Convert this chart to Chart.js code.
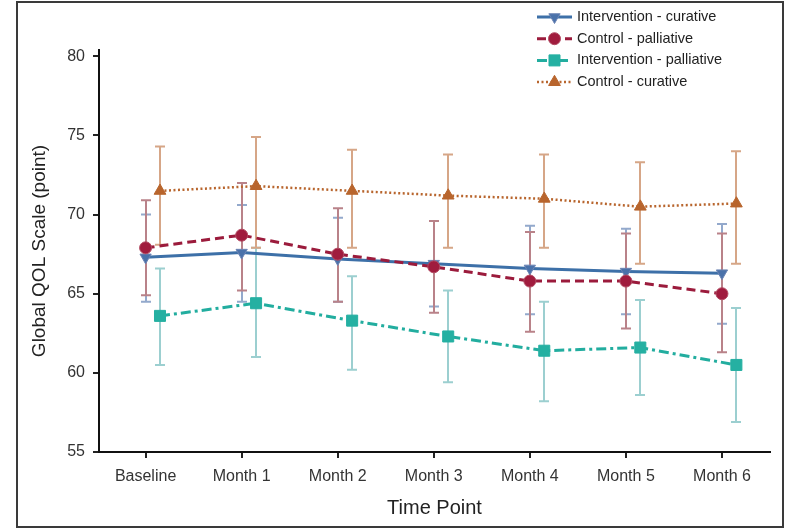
<!DOCTYPE html>
<html><head><meta charset="utf-8">
<script src="https://cdn.jsdelivr.net/npm/chart.js@4.4.0/dist/chart.umd.min.js"></script>
<style>
html,body{margin:0;padding:0;background:#fff;}
#wrap{position:relative;width:800px;height:530px;overflow:hidden;}
#frame{position:absolute;left:16px;top:1px;width:764px;height:523px;border:2px solid #3a3a3a;}
canvas{position:absolute;left:0;top:0;}
</style></head>
<body><div id="wrap"><div id="frame"></div><canvas id="c" width="800" height="530"></canvas></div>
<script>
const CATEGORIES = ['Baseline', 'Month 1', 'Month 2', 'Month 3', 'Month 4', 'Month 5', 'Month 6'];
const Y_TICKS = [55, 60, 65, 70, 75, 80];

const SERIES_NAMES = ['Intervention - curative', 'Control - palliative', 'Intervention - palliative', 'Control - curative'];

const IC_MEAN = [67.3, 67.6, 67.2, 66.9, 66.6, 66.4, 66.3];
const IC_LOW  = [64.5, 64.5, 64.5, 64.2, 63.7, 63.7, 63.1];
const IC_HIGH = [70.0, 70.6, 69.8, 69.6, 69.3, 69.1, 69.4];

const CP_MEAN = [67.9, 68.7, 67.5, 66.7, 65.8, 65.8, 65.0];
const CP_LOW  = [64.9, 65.2, 64.5, 63.8, 62.6, 62.8, 61.3];
const CP_HIGH = [70.9, 72.0, 70.4, 69.6, 68.9, 68.8, 68.8];

const IP_MEAN = [63.6, 64.4, 63.3, 62.3, 61.4, 61.6, 60.5];
const IP_LOW  = [60.5, 61.0, 60.2, 59.4, 58.2, 58.6, 56.9];
const IP_HIGH = [66.6, 67.9, 66.1, 65.2, 64.5, 64.6, 64.1];

const CC_MEAN = [71.5, 71.8, 71.5, 71.2, 71.0, 70.5, 70.7];
const CC_LOW  = [68.1, 67.9, 67.9, 67.9, 67.9, 66.9, 66.9];
const CC_HIGH = [74.3, 74.9, 74.1, 73.8, 73.8, 73.3, 74.0];

const DODGE = 0.15; // horizontal offset of the second group
const FONT = "'Liberation Sans', Arial, sans-serif";

function pts(vals, off) { return vals.map((v, i) => ({x: i + off, y: v})); }

const errorBars = {
  id: 'errorBars',
  beforeDatasetsDraw(chart) {
    const {ctx, scales: {x, y}} = chart;
    chart.data.datasets.forEach(ds => {
      ctx.save();
      ctx.strokeStyle = ds.errColor;
      ctx.lineWidth = 2;
      ds.data.forEach((p, i) => {
        const px = Math.round(x.getPixelForValue(p.x));
        const lo = y.getPixelForValue(ds.errLow[i]);
        const hi = y.getPixelForValue(ds.errHigh[i]);
        ctx.beginPath();
        ctx.moveTo(px, lo); ctx.lineTo(px, hi);
        ctx.moveTo(px - 5, lo); ctx.lineTo(px + 5, lo);
        ctx.moveTo(px - 5, hi); ctx.lineTo(px + 5, hi);
        ctx.stroke();
      });
      ctx.restore();
    });
  }
};

const legendBox = {
  id: 'legendBox',
  afterDraw(chart) {
    const ctx = chart.ctx;
    const x0 = 537, x1 = 572, tx = 577, y0 = 17, dy = 21.7;
    chart.data.datasets.forEach((ds, i) => {
      const cy = y0 + i * dy;
      ctx.save();
      ctx.strokeStyle = ds.borderColor;
      ctx.lineWidth = ds.borderWidth;
      ctx.setLineDash(ds.borderDash || []);
      ctx.beginPath(); ctx.moveTo(x0, cy); ctx.lineTo(x1, cy); ctx.stroke();
      ctx.setLineDash([]);
      ctx.fillStyle = ds.pointBackgroundColor;
      ctx.strokeStyle = ds.pointBorderColor;
      ctx.lineWidth = ds.pointBorderWidth;
      Chart.helpers.drawPoint(ctx, {pointStyle: ds.pointStyle, rotation: ds.pointRotation || 0,
        radius: ds.pointRadius, borderWidth: ds.pointBorderWidth}, (x0 + x1) / 2, cy);
      ctx.fillStyle = '#222';
      ctx.font = '14.5px ' + FONT;
      ctx.textBaseline = 'middle';
      ctx.textAlign = 'left';
      ctx.fillText(ds.label, tx, cy);
      ctx.restore();
    });
  }
};

const datasets = [
  {label: SERIES_NAMES[0], data: pts(IC_MEAN, 0), errLow: IC_LOW, errHigh: IC_HIGH, errColor: '#93a9cc',
   borderColor: '#3d70a8', borderWidth: 3, pointStyle: 'triangle', pointRotation: 180, pointRadius: 6.5,
   pointBackgroundColor: '#4a72aa', pointBorderColor: '#6d84b4', pointBorderWidth: 1, order: 2},
  {label: SERIES_NAMES[1], data: pts(CP_MEAN, 0), errLow: CP_LOW, errHigh: CP_HIGH, errColor: '#b98289',
   borderColor: '#9b1b3c', borderWidth: 3, borderDash: [9, 5], pointStyle: 'circle', pointRadius: 6,
   pointBackgroundColor: '#a01c3e', pointBorderColor: '#b24a62', pointBorderWidth: 1, order: 1},
  {label: SERIES_NAMES[2], data: pts(IP_MEAN, DODGE), errLow: IP_LOW, errHigh: IP_HIGH, errColor: '#9ccfd0',
   borderColor: '#22ad9f', borderWidth: 3, borderDash: [10, 4, 3, 4], pointStyle: 'rect', pointRadius: 7.8,
   pointBackgroundColor: '#25b0a2', pointBorderColor: '#25b0a2', pointBorderWidth: 1, order: 3},
  {label: SERIES_NAMES[3], data: pts(CC_MEAN, DODGE), errLow: CC_LOW, errHigh: CC_HIGH, errColor: '#d6a687',
   borderColor: '#b8652d', borderWidth: 2.5, borderDash: [2, 2.5], pointStyle: 'triangle', pointRadius: 6.8,
   pointBackgroundColor: '#b8652d', pointBorderColor: '#b8652d', pointBorderWidth: 1, order: 4}
];

new Chart(document.getElementById('c'), {
  type: 'line',
  data: {datasets},
  plugins: [errorBars, legendBox],
  options: {
    responsive: false,
    animation: false,
    layout: {padding: {left: 0, top: 50, right: 30, bottom: 0}},
    plugins: {legend: {display: false}, tooltip: {enabled: false}},
    elements: {line: {tension: 0}},
    scales: {
      x: {
        type: 'linear', min: -0.485, max: 6.5,
        afterBuildTicks: a => { a.ticks = CATEGORIES.map((c, i) => ({value: i})); },
        afterFit: s => { s.height = 78; },
        ticks: {callback: v => CATEGORIES[v], font: {size: 16, family: FONT}, color: '#333', padding: 9,
                maxRotation: 0, autoSkip: false},
        grid: {drawOnChartArea: false, drawTicks: true, tickLength: 6, color: '#222', lineWidth: 2},
        border: {display: true, color: '#111', width: 2},
        title: {display: true, text: 'Time Point', font: {size: 20, family: FONT}, color: '#222',
                padding: {top: 0, bottom: 10}}
      },
      y: {
        type: 'linear', min: 55, max: 80.4,
        afterBuildTicks: a => { a.ticks = Y_TICKS.map(v => ({value: v})); },
        afterFit: s => { s.width = 99; },
        ticks: {font: {size: 16, family: FONT}, color: '#333', padding: 8},
        grid: {drawOnChartArea: false, drawTicks: true, tickLength: 6, color: '#222', lineWidth: 2},
        border: {display: true, color: '#111', width: 2},
        title: {display: true, text: 'Global QOL Scale (point)', font: {size: 19, family: FONT}, color: '#222',
                padding: {top: 28, bottom: 0}}
      }
    }
  }
});
</script>
</body></html>
